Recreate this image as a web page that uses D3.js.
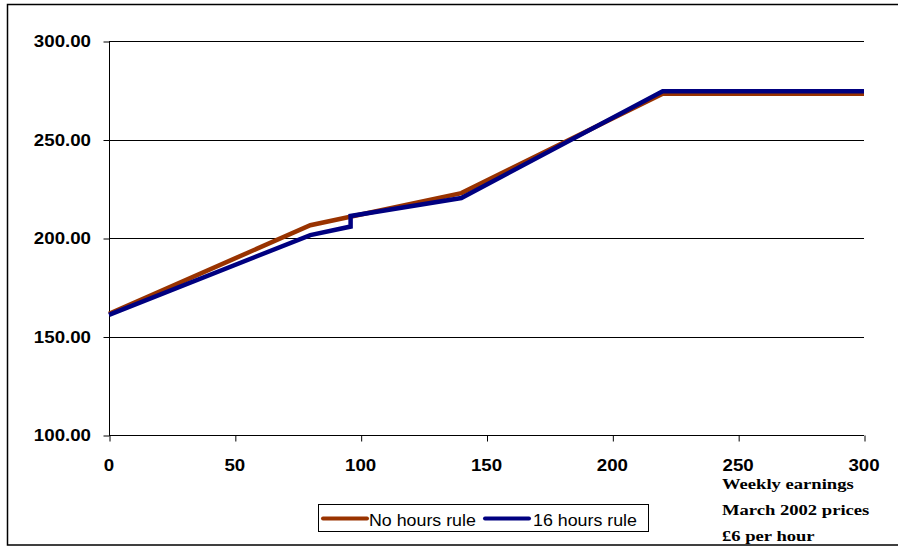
<!DOCTYPE html>
<html><head><meta charset="utf-8">
<script src="https://cdn.jsdelivr.net/npm/d3@7"></script>
<style>
html,body{margin:0;padding:0;background:#fff;}
svg{display:block;}
</style></head>
<body>
<svg id="c" width="898" height="548"></svg>
<script>
// Data
const xTicks = [0, 50, 100, 150, 200, 250, 300];
const yTicks = [100, 150, 200, 250, 300];
const seriesNames = ["No hours rule", "16 hours rule"];
const seriesColors = ["#993300", "#000080"];
const noHoursX = [0, 80, 140, 220, 300];
const noHoursY = [161.5, 206.5, 222.8, 273.2, 273.2];
const sixteenX = [0, 80, 96, 96, 140, 220, 300];
const sixteenY = [161, 201.5, 205.8, 211.2, 220.3, 274.5, 274.5];
const noteLines = ["Weekly earnings", "March 2002 prices", "£6 per hour"];

const svg = d3.select("#c");

// outer frame
svg.append("rect").attr("x", 7.5).attr("y", 4.5).attr("width", 898).attr("height", 540.5)
  .attr("fill", "none").attr("stroke", "#000").attr("stroke-width", 1.5);

const x = d3.scaleLinear().domain([0, 300]).range([109, 864]);
const y = d3.scaleLinear().domain([100, 300]).range([435, 41]);

function stretchedText(g, tx, ty, txt, anchor, font, sx) {
  return g.append("text")
    .attr("transform", `translate(${tx},${ty}) scale(${sx},1)`)
    .attr("text-anchor", anchor)
    .style("font", font)
    .attr("fill", "#000")
    .text(txt);
}

// gridlines
svg.append("g").selectAll("line").data(yTicks.filter(d => d > 100)).join("line")
  .attr("x1", x(0)).attr("x2", x(300))
  .attr("y1", d => Math.round(y(d)) + 0.5).attr("y2", d => Math.round(y(d)) + 0.5)
  .attr("stroke", "#000").attr("stroke-width", 1);

// axes
const yAxis = svg.append("g").attr("transform", `translate(${x(0)+0.5},0.5)`)
  .call(d3.axisLeft(y).tickValues(yTicks).tickSize(6).tickFormat(() => ""));
const xAxis = svg.append("g").attr("transform", `translate(0.5,${y(100)+0.5})`)
  .call(d3.axisBottom(x).tickValues(xTicks).tickSize(6).tickFormat(() => ""));
[yAxis, xAxis].forEach(a => {
  a.select(".domain").attr("stroke", "#000").attr("d", null);
  a.selectAll(".tick line").attr("stroke", "#000");
});
svg.append("line").attr("x1", x(0)+0.5).attr("x2", x(0)+0.5).attr("y1", y(300)).attr("y2", y(100))
  .attr("stroke", "#000");
svg.append("line").attr("x1", x(0)).attr("x2", x(300)).attr("y1", y(100)+0.5).attr("y2", y(100)+0.5)
  .attr("stroke", "#000");

const labelFont = "bold 17px 'Liberation Sans', Arial, sans-serif";
yTicks.forEach(v => stretchedText(svg, 91, y(v) + 6, d3.format(".2f")(v), "end", labelFont, 1.1));
xTicks.forEach(v => stretchedText(svg, x(v), 471, String(v), "middle", labelFont, 1.1));

// lines
const line = d3.line().x(d => x(d[0])).y(d => y(d[1]));
const data = [
  d3.zip(noHoursX, noHoursY),
  d3.zip(sixteenX, sixteenY)
];
data.forEach((pts, i) => {
  svg.append("path").attr("d", line(pts)).attr("fill", "none")
    .attr("stroke", seriesColors[i]).attr("stroke-width", 4.5)
    .attr("stroke-linejoin", "miter").attr("stroke-linecap", "butt");
});

// legend
svg.append("rect").attr("x", 318.5).attr("y", 504.5).attr("width", 330).attr("height", 27)
  .attr("fill", "#fff").attr("stroke", "#000").attr("stroke-width", 1);
const legFont = "16.5px 'Liberation Sans', Arial, sans-serif";
const legPos = [[323, 369], [485, 533]];
seriesNames.forEach((n, i) => {
  svg.append("line").attr("x1", legPos[i][0]).attr("x2", legPos[i][0] + 44)
    .attr("y1", 518.5).attr("y2", 518.5)
    .attr("stroke", seriesColors[i]).attr("stroke-width", 4).attr("stroke-linecap", "round");
  stretchedText(svg, legPos[i][1], 526, n, "start", legFont, 1.08);
});

// note text
const noteFont = "bold 15.5px 'Liberation Serif', 'Times New Roman', serif";
const noteY = [489, 515, 541];
noteLines.forEach((t, i) => stretchedText(svg, 722, noteY[i], t, "start", noteFont, 1.2));
</script>
</body></html>
